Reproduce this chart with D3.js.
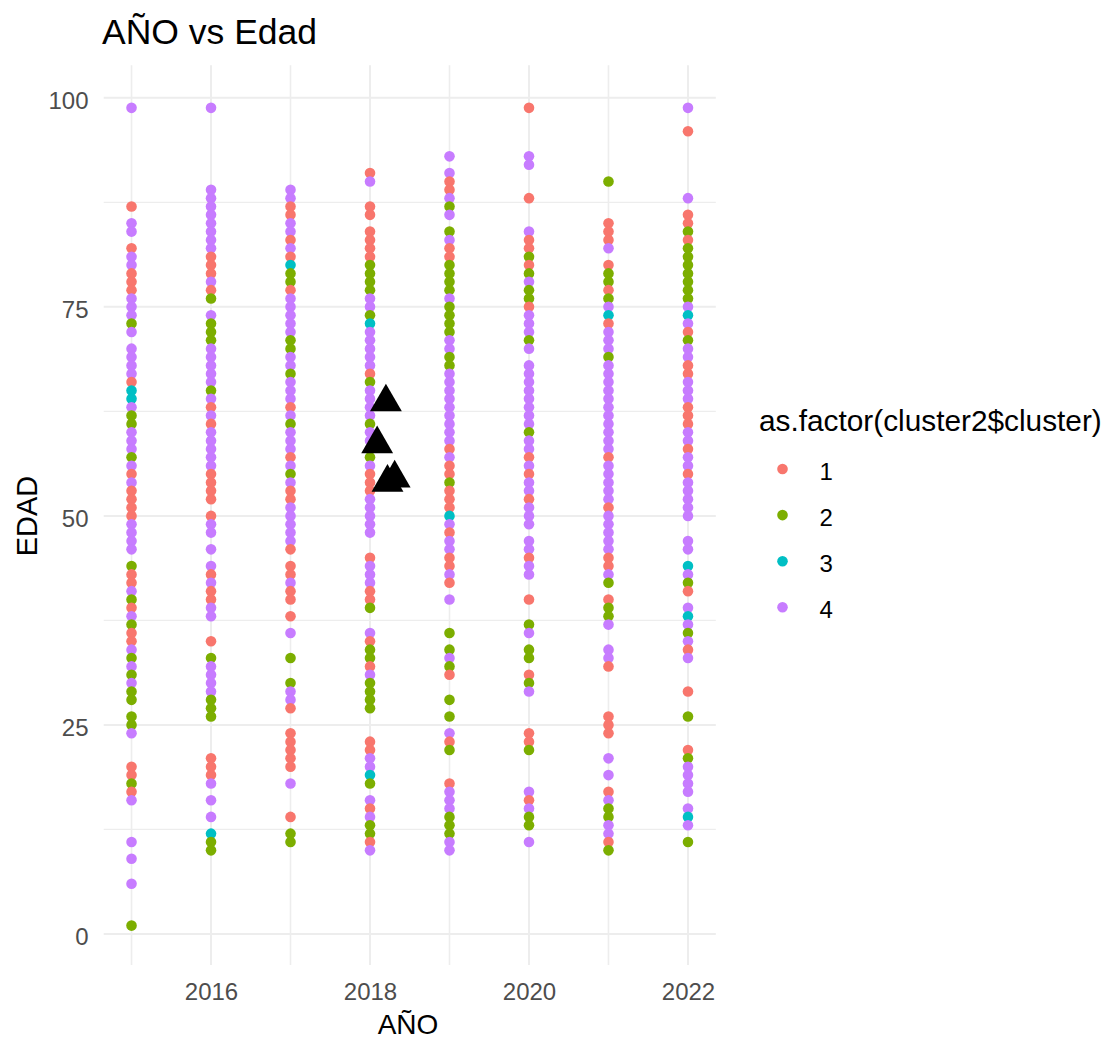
<!DOCTYPE html>
<html><head><meta charset="utf-8">
<script src="https://cdn.jsdelivr.net/npm/d3@7/dist/d3.min.js"></script>
<style>
html,body{margin:0;padding:0;background:#fff}
svg{display:block;font-family:"Liberation Sans",Arial,sans-serif}
</style></head><body>
<svg id="c" width="1109" height="1040"></svg>
<script>
const years=[2015,2016,2017,2018,2019,2020,2021,2022];
const clusters=["1","2","3","4"];
const colors=["#F8766D","#7CAE00","#00BFC4","#C77CFF"];
const xTicks=[2016,2018,2020,2022];
const yTicks=[0,25,50,75,100];
const xMinor=[2015,2017,2019,2021];
const yMinor=[12.5,37.5,62.5,87.5];
const a2015={1:[87,82,79,78,77,66,55,53,52,51,50,43,42,39,36,35,20,19,17],2:[73,62,61,57,44,40,37,33,31,29,28,26,25,18,1],3:[65,64],4:[98.8,85,84,81,80,76,75,74,72,70,69,68,67,63,60,59,58,56,54,49,48,47,46,41,38,34,32,30,24,16,11,9,6]};
const a2016={1:[81,80,79,77,63,61,55,54,53,52,50,43,41,40,35,21,20,19],2:[76,73,72,71,65,33,28,27,26,11,10],3:[12],4:[98.8,89,88,87,86,85,84,83,82,78,74,70,69,68,67,66,64,62,60,59,58,57,56,49,48,46,44,42,39,38,32,31,30,29,18,16,14]};
const a2017={1:[87,86,83,81,77,63,57,53,52,46,44,43,41,40,38,27,24,23,22,21,20,14],2:[79,78,71,70,67,61,55,33,30,12,11],3:[80],4:[89,88,85,84,82,76,75,74,73,72,69,68,66,65,64,62,60,59,58,56,54,51,50,49,48,47,42,36,29,28,18]};
const a2018={1:[91,87,86,84,83,82,81,67,55,54,53,45,41,40,35,32,23,22,15,11],2:[80,79,78,77,74,66,61,57,39,34,33,30,29,28,27,18,13,12],3:[73,19],4:[90,76,75,72,71,70,69,68,65,64,63,62,60,59,58,56,52,51,50,49,48,44,43,42,36,31,21,20,16,14,10]};
const a2019={1:[90,89,82,81,58,56,55,53,52,51,48,45,44,42,31,23,18],2:[87,84,80,79,78,77,75,74,73,72,69,68,54,36,34,32,28,26,22,14,13,12],3:[50],4:[93,91,88,86,83,76,71,70,67,66,65,64,63,62,61,60,59,57,49,47,46,43,40,33,24,17,16,15,11,10]};
const a2020={1:[98.8,88,83,82,80,75,57,55,52,45,40,31,24,23,16],2:[81,79,77,76,71,60,37,34,33,30,22,14,13],3:[],4:[93,92,84,78,74,73,72,70,68,67,66,65,64,63,62,61,59,58,56,54,53,51,50,49,47,46,44,43,36,29,17,15,11]};
const a2021={1:[85,84,83,80,77,73,57,51,45,44,40,32,26,25,24,17,11],2:[90,79,78,76,69,42,39,38,15,14,10],3:[74],4:[82,75,72,71,70,68,67,66,65,64,63,62,61,60,59,58,56,55,54,53,52,50,49,48,47,46,43,37,34,33,21,19,16,13,12]};
const a2022={1:[96,86,85,83,72,68,67,63,62,61,58,55,41,34,29,22],2:[84,82,81,80,79,78,77,76,71,42,36,26,21,11],3:[74,44,38,14],4:[98.8,88,75,73,70,69,66,65,64,60,59,57,56,54,53,52,51,50,47,46,43,39,37,35,33,20,19,18,17,15,13]};
const yearData=[a2015,a2016,a2017,a2018,a2019,a2020,a2021,a2022];
const centroidYear=[2018.2,2018.09,2018.22,2018.31];
const centroidAge=[63.6,58.6,54,54.5];

const svg=d3.select("#c");
const x=d3.scaleLinear().domain([2014.65,2022.35]).range([103.7,715.8]);
const y=d3.scaleLinear().domain([-3.7,103.9]).range([964.9,65.2]);
const color=d3.scaleOrdinal(clusters,colors);

const grid=svg.append("g").attr("stroke","#EDEDED").attr("fill","none");
grid.selectAll(".ym").data(yMinor).join("line").attr("x1",x.range()[0]).attr("x2",x.range()[1]).attr("y1",d=>y(d)).attr("y2",d=>y(d)).attr("stroke-width",1.2);
grid.selectAll(".xm").data(xMinor).join("line").attr("y1",y.range()[0]).attr("y2",y.range()[1]).attr("x1",d=>x(d)).attr("x2",d=>x(d)).attr("stroke-width",1.6);
grid.selectAll(".yM").data(yTicks).join("line").attr("x1",x.range()[0]).attr("x2",x.range()[1]).attr("y1",d=>y(d)).attr("y2",d=>y(d)).attr("stroke-width",2);
grid.selectAll(".xM").data(xTicks).join("line").attr("y1",y.range()[0]).attr("y2",y.range()[1]).attr("x1",d=>x(d)).attr("x2",d=>x(d)).attr("stroke-width",2);

const points=[];
years.forEach((yr,i)=>clusters.forEach(c=>yearData[i][c].forEach(age=>points.push({yr,c,age}))));
points.sort((a,b)=>d3.ascending(a.yr,b.yr)||d3.descending(a.age,b.age));
svg.append("g").selectAll("circle").data(points).join("circle")
  .attr("cx",d=>x(d.yr)).attr("cy",d=>y(d.age)).attr("r",5.3).attr("fill",d=>color(d.c));

svg.append("g").selectAll("path").data(centroidYear).join("path")
  .attr("d",d3.symbol(d3.symbolTriangle,440))
  .attr("transform",(d,i)=>`translate(${x(d)},${y(centroidAge[i])})`).attr("fill","#000");

const ax=svg.append("g").attr("transform","translate(0,975)").call(d3.axisBottom(x).tickValues(xTicks).tickSize(0).tickPadding(8).tickFormat(d3.format("d")));
const ay=svg.append("g").attr("transform","translate(95.5,3)").call(d3.axisLeft(y).tickValues(yTicks).tickSize(0).tickPadding(7));
[ax,ay].forEach(g=>{g.select(".domain").remove();g.selectAll("text").attr("fill","#4D4D4D").attr("font-size",24).attr("font-family","Liberation Sans");});

svg.append("text").attr("x",102).attr("y",44).attr("font-size",35.5).attr("fill","#000").text("AÑO vs Edad");
svg.append("text").attr("x",408).attr("y",1034).attr("text-anchor","middle").attr("font-size",28).attr("fill","#000").text("AÑO");
svg.append("text").attr("transform","translate(37,516) rotate(-90)").attr("text-anchor","middle").attr("font-size",29).attr("fill","#000").text("EDAD");

svg.append("text").attr("x",759).attr("y",431).attr("font-size",29.8).attr("fill","#000").text("as.factor(cluster2$cluster)");
const lg=svg.append("g").selectAll("g").data(clusters).join("g").attr("transform",(d,i)=>`translate(782.5,${469+i*46.1})`);
lg.append("circle").attr("r",5.3).attr("fill",d=>color(d));
lg.append("text").attr("x",37).attr("y",11).attr("font-size",24).attr("fill","#000").text(d=>d);
</script></body></html>
